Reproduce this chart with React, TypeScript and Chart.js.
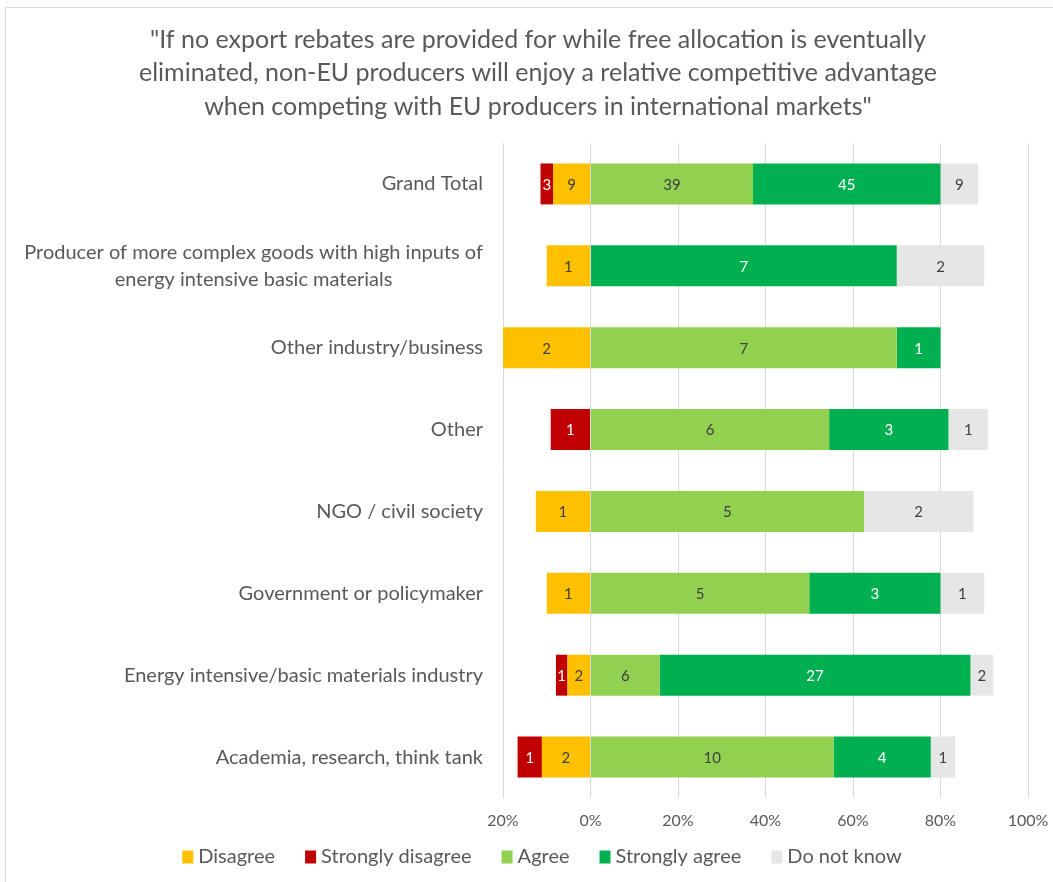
import React, { useEffect, useRef } from "react";
import { Chart, registerables } from "chart.js";

Chart.register(...registerables);

const titleLines = [
  "\"If no export rebates are provided for while free allocation is eventually",
  "eliminated, non-EU producers will enjoy a relative competitive advantage",
  "when competing with EU producers in international markets\"",
];

const categories: (string | string[])[] = [
  "Grand Total",
  ["Producer of more complex goods with high inputs of", "energy intensive basic materials"],
  "Other industry/business",
  "Other",
  "NGO / civil society",
  "Government or policymaker",
  "Energy intensive/basic materials industry",
  "Academia, research, think tank",
];

// response counts per category
const disagree = [9, 1, 2, 0, 1, 1, 2, 2];
const stronglyDisagree = [3, 0, 0, 1, 0, 0, 1, 1];
const agree = [39, 0, 7, 6, 5, 5, 6, 10];
const stronglyAgree = [45, 7, 1, 3, 0, 3, 27, 4];
const doNotKnow = [9, 2, 0, 1, 2, 1, 2, 1];

const seriesNames = ["Disagree", "Strongly disagree", "Agree", "Strongly agree", "Do not know"];
const seriesCounts = [disagree, stronglyDisagree, agree, stronglyAgree, doNotKnow];
const seriesSign = [-1, -1, 1, 1, 1];
const seriesColors = ["#FFC000", "#C00000", "#92D050", "#00B050", "#E7E6E6"];
const labelColors = ["#404040", "#FFFFFF", "#404040", "#FFFFFF", "#404040"];

const xMin = -20;
const xMax = 100;
const xStep = 20;

const FONT = "Lato";
const TEXT = "#595959";

const totals = categories.map((_, i) =>
  seriesCounts.reduce((s, arr) => s + arr[i], 0)
);

const W = 1076;
const H = 882;
const PAD_SIDE = W - 1028;

export default function App() {
  const ref = useRef<HTMLCanvasElement | null>(null);

  useEffect(() => {
    const canvas = ref.current;
    if (!canvas) return;

    const bgPlugin = {
      id: "bgBorder",
      beforeDraw(chart: any) {
        const ctx = chart.ctx;
        ctx.save();
        ctx.fillStyle = "#FFFFFF";
        ctx.fillRect(0, 0, chart.width, chart.height);
        ctx.strokeStyle = "#D9D9D9";
        ctx.lineWidth = 1;
        ctx.beginPath();
        ctx.moveTo(5.5, H);
        ctx.lineTo(5.5, 7.5);
        ctx.lineTo(W, 7.5);
        ctx.stroke();
        ctx.restore();
      },
    };

    const labelPlugin = {
      id: "labels",
      afterDatasetsDraw(chart: any) {
        const ctx = chart.ctx;
        ctx.save();
        ctx.font = `15px ${FONT}`;
        ctx.textAlign = "center";
        ctx.textBaseline = "middle";
        seriesCounts.forEach((counts, d) => {
          const meta = chart.getDatasetMeta(d);
          meta.data.forEach((bar: any, i: number) => {
            const c = counts[i];
            if (!c) return;
            ctx.fillStyle = labelColors[d];
            ctx.fillText(String(c), (bar.x + bar.base) / 2, bar.y + 1);
          });
        });
        ctx.restore();
      },
      afterDraw(chart: any) {
        const ctx = chart.ctx;
        const yScale = chart.scales.y;
        ctx.save();
        // category labels
        ctx.font = `20px ${FONT}`;
        ctx.fillStyle = TEXT;
        ctx.textBaseline = "middle";
        const right = chart.chartArea.left - 20;
        categories.forEach((lab, i) => {
          const y = yScale.getPixelForValue(i);
          const lines = Array.isArray(lab) ? lab : [lab];
          const widths = lines.map((l) => ctx.measureText(l).width);
          const maxW = Math.max(...widths);
          const lh = 27;
          lines.forEach((l, j) => {
            const yy = y + (j - (lines.length - 1) / 2) * lh;
            ctx.textAlign = "center";
            ctx.fillText(l, right - maxW / 2, yy);
          });
        });
        // legend
        const boxW = 11;
        const boxH = 13;
        const gapBox = 5;
        const gapItem = 30;
        const widths = seriesNames.map((n) => ctx.measureText(n).width);
        const total =
          widths.reduce((s, w) => s + w + boxW + gapBox, 0) + gapItem * (seriesNames.length - 1);
        let x = 542 - total / 2;
        const ly = 857;
        seriesNames.forEach((n, k) => {
          ctx.fillStyle = seriesColors[k];
          ctx.fillRect(x, ly - boxH / 2, boxW, boxH);
          x += boxW + gapBox;
          ctx.fillStyle = TEXT;
          ctx.textAlign = "left";
          ctx.fillText(n, x, ly);
          x += widths[k] + gapItem;
        });
        ctx.restore();
      },
    };

    const chart = new Chart(canvas, {
      type: "bar",
      data: {
        labels: categories.map((c) => (Array.isArray(c) ? c.join(" ") : c)),
        datasets: seriesNames.map((name, d) => ({
          label: name,
          data: seriesCounts[d].map((c, i) => (seriesSign[d] * c * 100) / totals[i]),
          backgroundColor: seriesColors[d],
          borderWidth: 0,
          categoryPercentage: 1,
          barPercentage: 0.5,
        })),
      },
      options: {
        indexAxis: "y",
        responsive: false,
        animation: false,
        devicePixelRatio: 1,
        layout: { padding: { left: PAD_SIDE, right: PAD_SIDE, top: 0, bottom: 53 } },
        plugins: {
          legend: { display: false },
          tooltip: { enabled: false },
          title: {
            display: true,
            text: titleLines,
            color: TEXT,
            font: { family: FONT, size: 25, weight: "normal", lineHeight: 1.34 },
            padding: { top: 23, bottom: 19.5 },
          },
        },
        scales: {
          x: {
            stacked: true,
            min: xMin,
            max: xMax,
            ticks: {
              stepSize: xStep,
              color: TEXT,
              font: { family: FONT, size: 16 },
              padding: 13,
              callback: (v: any) => Math.abs(Number(v)) + "%",
            },
            grid: { color: "#D9D9D9", drawTicks: false },
            border: { display: false },
            afterFit: (s: any) => {
              s.height = 31;
            },
          },
          y: {
            stacked: true,
            ticks: { display: false },
            grid: { display: false },
            border: { display: false },
            afterFit: (s: any) => {
              s.width = 503 - PAD_SIDE;
            },
          },
        },
      },
      plugins: [bgPlugin, labelPlugin],
    } as any);

    return () => chart.destroy();
  }, []);

  return (
    <div
      style={{
        position: "fixed",
        left: 0,
        top: 0,
        width: 1053,
        height: H,
        overflow: "hidden",
        background: "#fff",
      }}
    >
      <canvas ref={ref} width={W} height={H} style={{ display: "block", width: W, height: H }} />
    </div>
  );
}
